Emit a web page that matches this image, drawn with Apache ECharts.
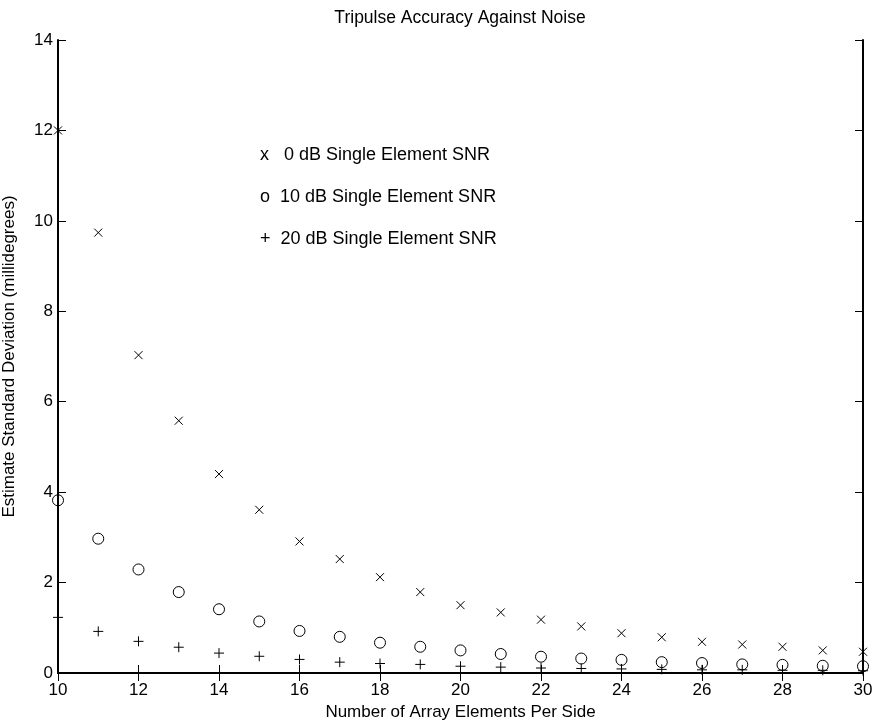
<!DOCTYPE html>
<html>
<head>
<meta charset="utf-8">
<script src="https://cdn.jsdelivr.net/npm/echarts@6/dist/echarts.min.js"></script>
<style>html,body{margin:0;padding:0;background:#fff}#c{width:876px;height:721px}</style>
</head>
<body>
<div id="c"></div>
<script>
var elements = [10,11,12,13,14,15,16,17,18,19,20,21,22,23,24,25,26,27,28,29,30];
var snr0 = [12.0,9.74,7.03,5.58,4.40,3.61,2.91,2.52,2.12,1.79,1.50,1.34,1.18,1.03,0.88,0.79,0.69,0.63,0.58,0.50,0.47];
var snr10 = [3.82,2.97,2.29,1.79,1.41,1.14,0.93,0.80,0.67,0.58,0.50,0.42,0.36,0.32,0.29,0.24,0.22,0.19,0.18,0.16,0.15];
var snr20 = [1.23,0.92,0.70,0.57,0.44,0.37,0.30,0.24,0.21,0.19,0.15,0.13,0.11,0.10,0.09,0.08,0.07,0.07,0.06,0.06,0.05];
var legendLines = ['x   0 dB Single Element SNR', 'o  10 dB Single Element SNR', '+  20 dB Single Element SNR'];
var titleText = 'Tripulse Accuracy Against Noise';
var xName = 'Number of Array Elements Per Side';
var yName = 'Estimate Standard Deviation (millidegrees)';

function pairs(ys){ return elements.map(function(x,i){ return [x, ys[i]]; }); }
var font = 'Liberation Sans, Arial, Helvetica, sans-serif';
var axisLine = {show:true, lineStyle:{color:'#000', width:2}};
var tick = {show:true, inside:true, length:8, lineStyle:{color:'#000', width:1}};
var chart = echarts.init(document.getElementById('c'), null, {renderer:'canvas'});
var markerStyle = {color:'rgba(0,0,0,0)', borderColor:'#000', borderWidth:1, opacity:1};
chart.setOption({
  animation:false,
  backgroundColor:'#fff',
  grid:{left:58, right:13, top:40, bottom:48, containLabel:false, outerBoundsMode:'none'},
  xAxis:[
    {type:'value', min:10, max:30, interval:2, position:'bottom', axisLine:axisLine, axisTick:tick, splitLine:{show:false},
     axisLabel:{color:'#000', fontFamily:font, fontSize:17, margin:9},
     name:xName, nameLocation:'middle', nameGap:27, nameTextStyle:{color:'#000', fontFamily:font, fontSize:17}},
    {type:'value', min:10, max:30, interval:2, position:'top', axisLine:axisLine, axisTick:tick, splitLine:{show:false}, axisLabel:{show:false}}
  ],
  yAxis:[
    {type:'value', min:0, max:14, interval:2, position:'left', axisLine:axisLine, axisTick:tick, splitLine:{show:false},
     axisLabel:{color:'#000', fontFamily:font, fontSize:17, margin:5},
     name:yName, nameLocation:'middle', nameGap:40, nameTextStyle:{color:'#000', fontFamily:font, fontSize:17}},
    {type:'value', min:0, max:14, interval:2, position:'right', axisLine:axisLine, axisTick:tick, splitLine:{show:false}, axisLabel:{show:false}}
  ],
  graphic:[
    {type:'text', x:460, y:9, style:{text:titleText, font:'17.5px '+font, fill:'#000', textAlign:'center'}},
    {type:'text', left:260, top:146, style:{text:legendLines[0], font:'18px '+font, fill:'#000'}},
    {type:'text', left:260, top:188, style:{text:legendLines[1], font:'18px '+font, fill:'#000'}},
    {type:'text', left:260, top:230, style:{text:legendLines[2], font:'18px '+font, fill:'#000'}}
  ],
  series:[
    {type:'scatter', data:pairs(snr0), symbol:'path://M0,0L10,10M10,0L0,10', symbolSize:8, itemStyle:markerStyle, clip:false, silent:true},
    {type:'scatter', data:pairs(snr10), symbol:'circle', symbolSize:11, itemStyle:markerStyle, clip:false, silent:true},
    {type:'scatter', data:pairs(snr20), symbol:'path://M5,0L5,10M0,5L10,5', symbolSize:10, itemStyle:markerStyle, clip:false, silent:true}
  ]
});
</script>
</body>
</html>
